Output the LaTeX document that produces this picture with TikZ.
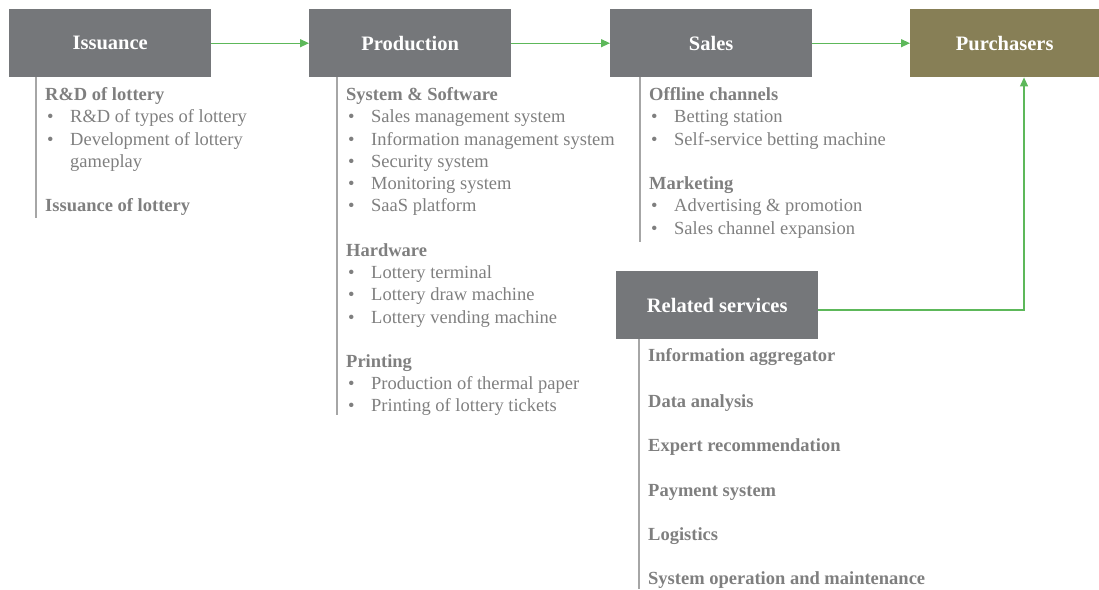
\documentclass[tikz,border=0pt]{standalone}
\usepackage{fontspec}
\setmainfont{Liberation Serif}
\usetikzlibrary{arrows.meta}
\definecolor{boxgray}{HTML}{75777A}
\definecolor{olive}{HTML}{877F56}
\definecolor{arrgreen}{HTML}{5DB85A}
\definecolor{txtgray}{HTML}{7F7F7F}
\definecolor{linegray}{HTML}{A6A6A6}
\tikzset{
  box/.style={fill=boxgray, draw=none, minimum width=202pt, minimum height=68pt, anchor=north west, inner sep=0pt,
    text=white, font=\fontsize{20.5}{24}\selectfont\bfseries},
  txt/.style={anchor=base west, inner sep=0pt, text=txtgray, font=\fontsize{18.5}{22}\selectfont},
  hd/.style={txt, font=\fontsize{18.5}{22}\selectfont\bfseries},
  flow/.style={draw=arrgreen, line width=1.2pt, -{Triangle[length=9pt,width=8pt]}},
  vline/.style={draw=linegray, line width=1.3pt}
}
\newcommand\bitem[4]{\node[txt] (#1b) at (#2,#3) {•}; \node[txt] (#1) at (#2+23,#3) {#4};}
\begin{document}
\begin{tikzpicture}[x=1pt,y=-1pt]
\useasboundingbox (0,0) rectangle (1099,589);
% boxes
\node[box] (iss) at (9,9) {Issuance};
\node[box] (prod) at (309,9) {Production};
\node[box] (sales) at (610,9) {Sales};
\node[box, fill=olive, minimum width=189pt] (pur) at (910,9) {Purchasers};
\node[box] (rel) at (616,271) {Related services};
% arrows
\draw[flow] (iss.east) -- (prod.west);
\draw[flow] (prod.east) -- (sales.west);
\draw[flow] (sales.east) -- (pur.west);
\coordinate (corner) at (1024,310);
\draw[flow] (rel.east |- corner) -- (corner) -- (corner |- pur.south);
% vertical lines
\coordinate (l1) at (36,218);
\coordinate (l2) at (337,415);
\coordinate (l3) at (640,242);
\coordinate (l4) at (639,589);
\draw[vline] (l1 |- iss.south) -- (l1);
\draw[vline] (l2 |- prod.south) -- (l2);
\draw[vline] (l3 |- sales.south) -- (l3);
\draw[vline] (l4 |- rel.south) -- (l4);
% Issuance texts
\node[hd] (ih1) at (45,100) {R\&D of lottery};
\bitem{i1}{47}{122}{R\&D of types of lottery}
\bitem{i2}{47}{145}{Development of lottery}
\node[txt] (i3) at (70,167) {gameplay};
\node[hd] (ih2) at (45,211) {Issuance of lottery};
% Production texts
\node[hd] (ph1) at (346,100) {System \& Software};
\bitem{p1}{348}{122}{Sales management system}
\bitem{p2}{348}{145}{Information management system}
\bitem{p3}{348}{167}{Security system}
\bitem{p4}{348}{189}{Monitoring system}
\bitem{p5}{348}{211}{SaaS platform}
\node[hd] (ph2) at (346,256) {Hardware};
\bitem{p6}{348}{278}{Lottery terminal}
\bitem{p7}{348}{300}{Lottery draw machine}
\bitem{p8}{348}{323}{Lottery vending machine}
\node[hd] (ph3) at (346,367) {Printing};
\bitem{p9}{348}{389}{Production of thermal paper}
\bitem{p10}{348}{411}{Printing of lottery tickets}
% Sales texts
\node[hd] (sh1) at (649,100) {Offline channels};
\bitem{s1}{651}{122}{Betting station}
\bitem{s2}{651}{145}{Self-service betting machine}
\node[hd] (sh2) at (649,189) {Marketing};
\bitem{s3}{651}{211}{Advertising \& promotion}
\bitem{s4}{651}{234}{Sales channel expansion}
% Related services texts
\node[hd] (r1) at (648,361) {Information aggregator};
\node[hd] (r2) at (648,407) {Data analysis};
\node[hd] (r3) at (648,451) {Expert recommendation};
\node[hd] (r4) at (648,496) {Payment system};
\node[hd] (r5) at (648,540) {Logistics};
\node[hd] (r6) at (648,584) {System operation and maintenance};
\end{tikzpicture}
\end{document}
